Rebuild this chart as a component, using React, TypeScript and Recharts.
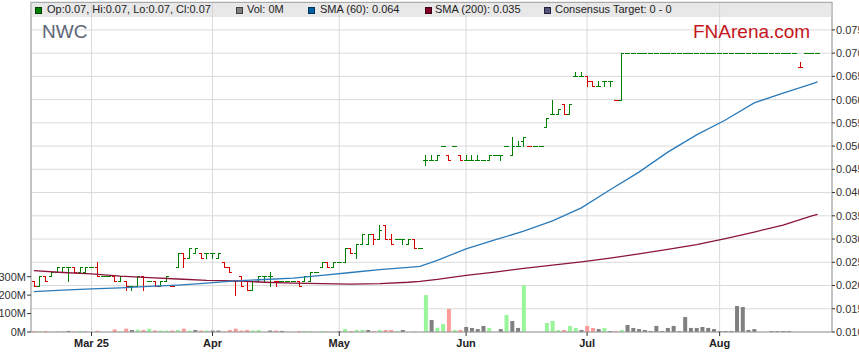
import { ComposedChart, Bar, Line, XAxis, YAxis, CartesianGrid, Cell } from "recharts";

// Eje X: días hábiles desde el 17 de febrero; sólo se rotulan los meses
const dayCount = 139;
const monthTicks = [10, 31, 53, 75, 96, 119];
const monthLabels = ["Mar 25", "Apr", "May", "Jun", "Jul", "Aug"];

const priceTicks = [0.01, 0.015, 0.02, 0.025, 0.03, 0.035, 0.04, 0.045, 0.05, 0.055, 0.06, 0.065, 0.07, 0.075];
const volumeTicks = [0, 100, 200, 300];

// Cierre del día anterior al primero (para el color de la primera barra)
const startPrevClose = 0.021;

// OHLC diario
const opens = [
  0.021, 0.02, 0.022, 0.022, 0.023, 0.023, 0.024, 0.024, 0.023, 0.023,
  0.024, 0.024, 0.022, 0.022, 0.022, 0.021, 0.021, 0.02, 0.02, 0.022,
  0.021, 0.021, 0.02, 0.021, 0.02, 0.024, 0.027, 0.026, 0.027, 0.027,
  0.027, 0.027, 0.026, 0.025, 0.024, 0.021, 0.022, 0.021, 0.019, 0.021,
  0.022, 0.022, 0.021, 0.021, 0.021, 0.021, 0.021, 0.021, 0.021, 0.023,
  0.024, 0.025, 0.024, 0.025, 0.025, 0.028, 0.027, 0.029, 0.029, 0.031,
  0.03, 0.033, 0.03, 0.03, 0.03, 0.029, 0.03, 0.028, 0.047, 0.047,
  0.047, 0.05, 0.048, 0.05, 0.048, 0.047, 0.047, 0.047, 0.047, 0.047,
  0.048, 0.048, 0.05, 0.048, 0.05, 0.051, 0.05, 0.05, 0.05, 0.054,
  0.057, 0.057, 0.059, 0.057, 0.065, 0.065, 0.065, 0.064, 0.063, 0.064,
  0.064, 0.06, 0.06, 0.07, 0.07, 0.07, 0.07, 0.07, 0.07, 0.07,
  0.07, 0.07, 0.07, 0.07, 0.07, 0.07, 0.07, 0.07, 0.07, 0.07,
  0.07, 0.07, 0.07, 0.07, 0.07, 0.07, 0.07, 0.07, 0.07, 0.07,
  0.07, 0.07, 0.07, 0.067, 0.07, 0.07, 0.07,
];
const highs = [
  0.021, 0.022, 0.022, 0.023, 0.024, 0.024, 0.024, 0.024, 0.024, 0.024,
  0.024, 0.025, 0.022, 0.022, 0.022, 0.022, 0.021, 0.02, 0.022, 0.022,
  0.021, 0.021, 0.021, 0.022, 0.02, 0.027, 0.027, 0.028, 0.028, 0.027,
  0.027, 0.027, 0.027, 0.025, 0.024, 0.021, 0.022, 0.021, 0.021, 0.022,
  0.022, 0.023, 0.021, 0.021, 0.021, 0.021, 0.021, 0.022, 0.023, 0.023,
  0.025, 0.025, 0.025, 0.025, 0.028, 0.028, 0.029, 0.031, 0.031, 0.031,
  0.033, 0.033, 0.031, 0.03, 0.03, 0.03, 0.03, 0.028, 0.048, 0.048,
  0.048, 0.05, 0.048, 0.05, 0.048, 0.048, 0.048, 0.048, 0.047, 0.048,
  0.048, 0.048, 0.05, 0.052, 0.051, 0.052, 0.05, 0.05, 0.05, 0.056,
  0.06, 0.058, 0.059, 0.059, 0.066, 0.066, 0.065, 0.064, 0.064, 0.064,
  0.064, 0.06, 0.07, 0.07, 0.07, 0.07, 0.07, 0.07, 0.07, 0.07,
  0.07, 0.07, 0.07, 0.07, 0.07, 0.07, 0.07, 0.07, 0.07, 0.07,
  0.07, 0.07, 0.07, 0.07, 0.07, 0.07, 0.07, 0.07, 0.07, 0.07,
  0.07, 0.07, 0.07, 0.068, 0.07, 0.07, 0.07,
];
const lows = [
  0.02, 0.02, 0.021, 0.022, 0.023, 0.023, 0.021, 0.023, 0.023, 0.023,
  0.024, 0.022, 0.022, 0.022, 0.021, 0.021, 0.019, 0.019, 0.02, 0.019,
  0.021, 0.02, 0.02, 0.021, 0.02, 0.024, 0.024, 0.026, 0.027, 0.026,
  0.026, 0.026, 0.026, 0.024, 0.023, 0.018, 0.02, 0.019, 0.019, 0.021,
  0.021, 0.02, 0.02, 0.021, 0.021, 0.021, 0.02, 0.021, 0.021, 0.023,
  0.024, 0.024, 0.024, 0.025, 0.025, 0.027, 0.026, 0.029, 0.029, 0.029,
  0.03, 0.03, 0.029, 0.03, 0.029, 0.029, 0.028, 0.028, 0.046, 0.047,
  0.047, 0.05, 0.047, 0.05, 0.047, 0.047, 0.047, 0.047, 0.047, 0.047,
  0.048, 0.047, 0.05, 0.048, 0.05, 0.05, 0.05, 0.05, 0.05, 0.054,
  0.057, 0.057, 0.057, 0.057, 0.065, 0.065, 0.063, 0.063, 0.063, 0.063,
  0.063, 0.06, 0.06, 0.07, 0.07, 0.07, 0.07, 0.07, 0.07, 0.07,
  0.07, 0.07, 0.07, 0.07, 0.07, 0.07, 0.07, 0.07, 0.07, 0.07,
  0.07, 0.07, 0.07, 0.07, 0.07, 0.07, 0.07, 0.07, 0.07, 0.07,
  0.07, 0.07, 0.07, 0.067, 0.07, 0.07, 0.07,
];
const closes = [
  0.02, 0.022, 0.021, 0.023, 0.024, 0.024, 0.024, 0.023, 0.024, 0.024,
  0.024, 0.022, 0.022, 0.022, 0.021, 0.022, 0.02, 0.02, 0.022, 0.02,
  0.021, 0.02, 0.021, 0.022, 0.02, 0.027, 0.026, 0.028, 0.028, 0.026,
  0.027, 0.027, 0.027, 0.024, 0.023, 0.021, 0.02, 0.019, 0.021, 0.022,
  0.022, 0.022, 0.021, 0.021, 0.021, 0.021, 0.02, 0.022, 0.023, 0.023,
  0.025, 0.024, 0.025, 0.025, 0.028, 0.027, 0.029, 0.031, 0.031, 0.03,
  0.032, 0.03, 0.029, 0.03, 0.03, 0.03, 0.028, 0.028, 0.047, 0.047,
  0.048, 0.05, 0.047, 0.05, 0.047, 0.047, 0.047, 0.047, 0.047, 0.048,
  0.048, 0.048, 0.05, 0.05, 0.05, 0.052, 0.05, 0.05, 0.05, 0.056,
  0.057, 0.058, 0.057, 0.059, 0.065, 0.065, 0.064, 0.063, 0.063, 0.064,
  0.064, 0.06, 0.07, 0.07, 0.07, 0.07, 0.07, 0.07, 0.07, 0.07,
  0.07, 0.07, 0.07, 0.07, 0.07, 0.07, 0.07, 0.07, 0.07, 0.07,
  0.07, 0.07, 0.07, 0.07, 0.07, 0.07, 0.07, 0.07, 0.07, 0.07,
  0.07, 0.07, 0.07, 0.067, 0.07, 0.07, 0.07,
];
// Volumen en millones
const volumes = [
  5, 5, 5, 2, 4, 2, 6, 2, 6, 2,
  0, 7, 0, 0, 14, 3, 18, 11, 13, 11,
  18, 8, 8, 8, 8, 11, 18, 8, 11, 8,
  8, 8, 8, 3, 11, 18, 8, 11, 8, 11,
  0, 8, 8, 6, 0, 0, 5, 5, 5, 0,
  5, 2, 2, 5, 16, 5, 11, 11, 11, 5,
  11, 11, 11, 5, 11, 0, 2, 0, 200, 65,
  23, 43, 125, 11, 11, 27, 22, 16, 33, 22,
  0, 16, 92, 60, 22, 255, 0, 0, 0, 49,
  60, 11, 11, 33, 22, 11, 33, 22, 16, 22,
  5, 5, 11, 38, 22, 16, 11, 5, 33, 5,
  22, 33, 5, 81, 22, 22, 27, 22, 16, 5,
  5, 5, 141, 136, 11, 16, 0, 0, 5, 5,
  5, 5, 0, 0, 0, 0, 0,
];

const smaDays = [0, 5, 10, 15, 20, 25, 30, 35, 40, 45, 50, 55, 60, 65, 67, 70, 75, 80, 85, 90, 95, 100, 105, 110, 115, 120, 125, 130, 135, 136];
const sma60 = [
  0.0187, 0.019, 0.0193, 0.0195, 0.0198, 0.0201, 0.0205, 0.021, 0.0213, 0.0216,
  0.0222, 0.0228, 0.0234, 0.0239, 0.0241, 0.0254, 0.0279, 0.0298, 0.0317, 0.0339,
  0.0367, 0.0406, 0.0444, 0.0487, 0.0524, 0.0556, 0.0593, 0.0614, 0.0634, 0.0638,
];
const sma200 = [
  0.0232, 0.0228, 0.0225, 0.022, 0.0217, 0.0214, 0.0211, 0.021, 0.0207, 0.0205,
  0.0204, 0.0203, 0.0204, 0.0207, 0.0209, 0.0213, 0.0222, 0.0229, 0.0237, 0.0244,
  0.0251, 0.0259, 0.0268, 0.0278, 0.0288, 0.0301, 0.0315, 0.033, 0.035, 0.0353,
];

const UP = "#008000";
const DOWN = "#d40000";
const VOL_UP = "#99f599";
const VOL_DOWN = "#ff9a9a";
const VOL_FLAT = "#808080";
const FONT = "'Liberation Sans', Arial, sans-serif";

// Tabla para Recharts
const data = Array.from({ length: dayCount }, (_, i) => {
  const has = i < closes.length;
  const prev = i === 0 ? startPrevClose : closes[i - 1];
  const s = smaDays.indexOf(i);
  return {
    idx: i,
    range: has ? [lows[i], highs[i]] : null,
    o: has ? opens[i] : null,
    h: has ? highs[i] : null,
    l: has ? lows[i] : null,
    c: has ? closes[i] : null,
    dir: has ? Math.sign(closes[i] - prev) : 0,
    vol: has ? volumes[i] : null,
    sma60: s >= 0 ? sma60[s] : null,
    sma200: s >= 0 ? sma200[s] : null,
  };
});

// Barra OHLC: línea vertical de mínimo a máximo, apertura a la izquierda y cierre a la derecha
const OhlcShape = (props: any) => {
  const { x, y, width, height, payload } = props;
  if (!payload || payload.c == null || isNaN(y)) return null;
  const { o, h, l, c, dir } = payload;
  const top = Math.min(y, y + height);
  const bottom = Math.max(y, y + height);
  const span = h - l;
  const at = (v: number) => (span > 0 ? top + ((h - v) / span) * (bottom - top) : top);
  const cx = Math.round(x + width / 2) + 0.5;
  const yo = Math.round(at(o)) + 0.5;
  const yc = Math.round(at(c)) + 0.5;
  const color = dir < 0 ? DOWN : UP;
  return (
    <g stroke={color} strokeWidth={1} shapeRendering="crispEdges">
      {bottom - top > 0.5 && <line x1={cx} x2={cx} y1={Math.round(top)} y2={Math.round(bottom) + 1} />}
      <line x1={cx - 2.5} x2={cx} y1={yo} y2={yo} />
      <line x1={cx} x2={cx + 2.5} y1={yc} y2={yc} />
    </g>
  );
};

const legendItems = [
  { left: 35, textLeft: 47, fill: "#008000", border: "#004000", label: "Op:0.07, Hi:0.07, Lo:0.07, Cl:0.07" },
  { left: 236, textLeft: 247, fill: "#808080", border: "#404040", label: "Vol: 0M" },
  { left: 308, textLeft: 320, fill: "#0062a3", border: "#003355", label: "SMA (60): 0.064" },
  { left: 425, textLeft: 435, fill: "#800028", border: "#400014", label: "SMA (200): 0.035" },
  { left: 544, textLeft: 555, fill: "#55557a", border: "#222240", label: "Consensus Target: 0 - 0" },
];

const App = () => {
  return (
    <div style={{ position: "relative", width: 859, height: 363, background: "#fff", fontFamily: FONT }}>
      <style>{"body{margin:0}"}</style>
      <ComposedChart width={859} height={363} data={data} margin={{ top: 2, right: 0, bottom: 0, left: 0 }}>
        <CartesianGrid xAxisId="v" yAxisId="price" stroke="#dadada" />
        <XAxis
          xAxisId="v"
          dataKey="idx"
          type="category"
          ticks={monthTicks}
          interval={0}
          tickFormatter={(v) => monthLabels[monthTicks.indexOf(v)]}
          height={31}
          tickSize={4}
          tickMargin={3}
          axisLine={{ stroke: "#999" }}
          tickLine={{ stroke: "#333" }}
          tick={{ fontSize: 11, fontWeight: "bold", fill: "#222", fontFamily: FONT }}
        />
        <XAxis xAxisId="p" dataKey="idx" type="category" orientation="top" height={0} hide />
        <YAxis
          yAxisId="vol"
          orientation="left"
          width={31}
          domain={[0, 1790]}
          ticks={volumeTicks}
          tickFormatter={(v) => `${v}M`}
          tickSize={4}
          tickMargin={1}
          axisLine={{ stroke: "#999" }}
          tickLine={{ stroke: "#333" }}
          tick={{ fontSize: 11, fill: "#333", fontFamily: FONT }}
        />
        <YAxis
          yAxisId="price"
          orientation="right"
          width={27}
          domain={[0.01, 0.081]}
          ticks={priceTicks}
          allowDataOverflow
          tickFormatter={(v) => v.toFixed(3)}
          tickSize={3}
          tickMargin={1}
          axisLine={{ stroke: "#999" }}
          tickLine={{ stroke: "#333" }}
          tick={{ fontSize: 11, fill: "#333", fontFamily: FONT }}
        />
        <Bar xAxisId="v" yAxisId="vol" dataKey="vol" barSize={4} isAnimationActive={false}>
          {data.map((d, i) => (
            <Cell key={i} fill={d.dir > 0 ? VOL_UP : d.dir < 0 ? VOL_DOWN : VOL_FLAT} />
          ))}
        </Bar>
        <Line
          xAxisId="p"
          yAxisId="price"
          dataKey="sma200"
          stroke="#8a1538"
          strokeWidth={1.3}
          dot={false}
          connectNulls
          isAnimationActive={false}
        />
        <Line
          xAxisId="p"
          yAxisId="price"
          dataKey="sma60"
          stroke="#2b7bba"
          strokeWidth={1.3}
          dot={false}
          connectNulls
          isAnimationActive={false}
        />
        <Bar xAxisId="p" yAxisId="price" dataKey="range" barSize={5} shape={OhlcShape} isAnimationActive={false} />
      </ComposedChart>

      {/* Leyenda superior */}
      <div
        style={{
          position: "absolute",
          left: 31,
          top: 2,
          width: 801,
          height: 15,
          background: "rgba(210,210,210,0.5)",
          borderTop: "1px solid #aaa",
          boxSizing: "border-box",
        }}
      />
      {legendItems.map((it) => (
        <div key={it.label}>
          <div
            style={{
              position: "absolute",
              left: it.left,
              top: 7,
              width: 5,
              height: 5,
              background: it.fill,
              border: `1px solid ${it.border}`,
            }}
          />
          <div style={{ position: "absolute", left: it.textLeft, top: 4, fontSize: 11, lineHeight: "11px", color: "#222", whiteSpace: "nowrap" }}>
            {it.label}
          </div>
        </div>
      ))}

      <div style={{ position: "absolute", left: 42, top: 22, fontSize: 19, lineHeight: "19px", color: "#5c6676" }}>NWC</div>
      <div style={{ position: "absolute", left: 693, top: 22, fontSize: 19, lineHeight: "19px", color: "#c4161c" }}>FNArena.com</div>
    </div>
  );
};

export default App;
